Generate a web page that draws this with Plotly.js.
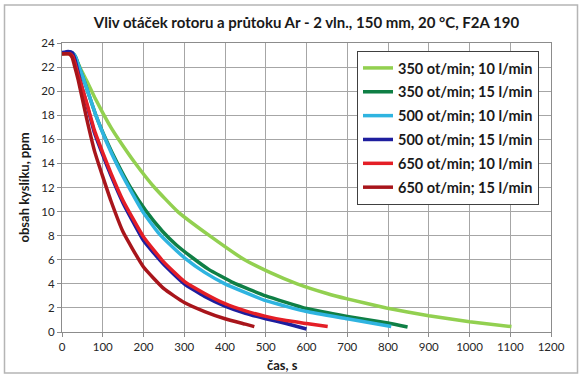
<!DOCTYPE html>
<html>
<head>
<meta charset="utf-8">
<script src="https://cdn.plot.ly/plotly-3.0.1.min.js"></script>
<style>html,body{margin:0;padding:0;background:#fff;}#chart{width:580px;height:380px;}</style>
</head>
<body>
<div id="chart"></div>
<script>
// Series names
const seriesNames = [
  "350 ot/min; 10 l/min",
  "350 ot/min; 15 l/min",
  "500 ot/min; 10 l/min",
  "500 ot/min; 15 l/min",
  "650 ot/min; 10 l/min",
  "650 ot/min; 15 l/min"
];
const seriesColors = ["#92D050", "#0F7F45", "#2FB4E0", "#1E1E9E", "#E41E26", "#A8151B"];

// Time (s) and oxygen content (ppm)
const t350_10 = [0,20,30,37,45,60,80,100,120,140,178,227,284,362,448,510,577,650,700,796,900,1000,1103];
const v350_10 = [23.1,23.1,23.0,22.5,21.9,20.9,19.5,18.2,17.0,15.95,14.1,12.0,10.0,8.0,6.0,4.95,4.0,3.2,2.75,2.0,1.35,0.85,0.45];

const t350_15 = [0,20,28,34,40,50,64,82,109,136,168,205,247,280,317,360,420,500,600,700,800,848];
const v350_15 = [23.1,23.2,23.1,22.8,22.2,21.3,19.9,18.1,15.9,14.0,12.0,10.1,8.35,7.25,6.25,5.2,4.1,3.0,1.95,1.3,0.75,0.42];

const t500_10 = [0,20,28,34,40,50,64,82,109,135,166,198,235,270,303,350,400,500,600,700,808];
const v500_10 = [23.1,23.25,23.1,22.8,22.2,21.3,19.9,18.1,15.8,13.9,11.9,10.0,8.3,7.1,6.1,4.95,4.0,2.6,1.7,1.1,0.45];

const t500_15 = [0,15,25,32,40,50,60,80,100,120,150,200,250,300,350,400,450,500,550,600];
const v500_15 = [23.2,23.3,23.2,22.6,21.5,20.2,19.0,16.5,14.7,13.0,10.7,7.6,5.6,4.0,2.95,2.15,1.55,1.1,0.7,0.25];

const t650_10 = [0,20,26,32,40,60,80,100,120,150,200,250,300,350,400,450,500,550,600,652];
const v650_10 = [23.1,23.1,22.9,22.3,21.3,19.1,16.7,14.9,13.2,10.9,7.9,5.8,4.2,3.2,2.35,1.75,1.3,0.95,0.7,0.45];

const t650_15 = [0,18,25,30,40,60,80,100,120,150,200,250,300,350,400,450,472];
const v650_15 = [23.1,23.1,22.8,22.2,20.9,17.8,15.0,12.9,10.9,8.3,5.4,3.6,2.45,1.7,1.1,0.65,0.45];

const xTicks = [0,100,200,300,400,500,600,700,800,900,1000,1100,1200];
const yTicks = [0,2,4,6,8,10,12,14,16,18,20,22,24];

const allT = [t350_10, t350_15, t500_10, t500_15, t650_10, t650_15];
const allV = [v350_10, v350_15, v500_10, v500_15, v650_10, v650_15];

const FONT = "Lato, 'Open Sans', 'DejaVu Sans', sans-serif";

const traces = allT.map((t, i) => ({
  x: t, y: allV[i], name: seriesNames[i], type: "scatter", mode: "lines",
  legendgroup: "g" + i,
  line: {color: seriesColors[i], width: 3.5, shape: "spline", smoothing: 0.4}
}));

const L = 62, R = 29, T = 43, B = 48;
const pw = 580 - L - R, ph = 380 - T - B;
const px = v => (v - L) / pw;
const py = v => (380 - B - v) / ph;

const layout = {
  width: 580, height: 380,
  margin: {l: L, r: R, t: T, b: B},
  paper_bgcolor: "#ffffff", plot_bgcolor: "#ffffff",
  font: {family: FONT, color: "#1a1a1a"},
  showlegend: true,
  title: {
    text: "<b>Vliv otáček rotoru a průtoku Ar - 2 vln., 150 mm, 20 °C, F2A 190</b>",
    font: {family: FONT, size: 15, color: "#1a1a1a"},
    x: 0.5, xref: "paper", xanchor: "center",
    y: 1 - 23 / 380, yref: "container", yanchor: "middle"
  },
  xaxis: {
    range: [0, 1200], tickvals: xTicks, ticktext: xTicks.map(String),
    showgrid: true, gridcolor: "#A6A6A6", gridwidth: 1,
    showline: true, linecolor: "#8C8C8C", linewidth: 1, mirror: true,
    ticks: "outside", ticklen: 4, tickcolor: "#8C8C8C",
    zeroline: false,
    tickfont: {family: FONT, size: 11.5, color: "#262626"}
  },
  yaxis: {
    range: [0, 24], tickvals: yTicks, ticktext: yTicks.map(String),
    showgrid: true, gridcolor: "#A6A6A6", gridwidth: 1,
    showline: true, linecolor: "#8C8C8C", linewidth: 1, mirror: true,
    ticks: "outside", ticklen: 4, tickcolor: "#8C8C8C",
    zeroline: false,
    tickfont: {family: FONT, size: 11.5, color: "#262626"},
    title: {text: "<b>obsah kyslíku, ppm</b>", font: {family: FONT, size: 13, color: "#1a1a1a"}, standoff: 8}
  },
  legend: {
    x: px(357), y: py(51), xanchor: "left", yanchor: "top",
    bgcolor: "#ffffff", bordercolor: "#404040", borderwidth: 1,
    font: {family: FONT, size: 14.5, color: "#1a1a1a", weight: "bold"},
    tracegroupgap: 2, itemwidth: 30
  },
  annotations: [{
    text: "<b>čas, s</b>", showarrow: false,
    xref: "paper", yref: "paper", x: px(282), y: py(365),
    xanchor: "center", yanchor: "middle",
    font: {family: FONT, size: 13, color: "#1a1a1a"}
  }],
  shapes: [{
    type: "rect", xref: "paper", yref: "paper",
    x0: px(4.5), x1: px(577.5), y0: py(373), y1: py(5),
    line: {color: "#B5B5B5", width: 1.5}, fillcolor: "rgba(0,0,0,0)", layer: "below"
  }]
};

Plotly.newPlot("chart", traces, layout, {staticPlot: true, displayModeBar: false});
</script>
</body>
</html>
